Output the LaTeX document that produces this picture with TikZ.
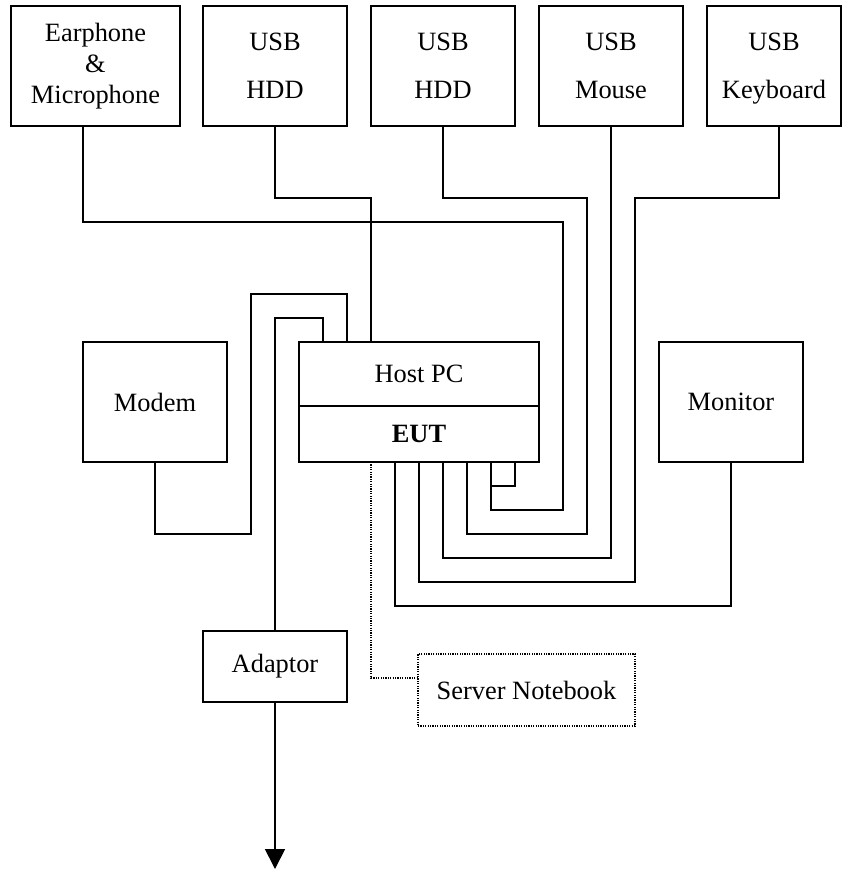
\documentclass[tikz,border=0pt]{standalone}
\usepackage{fontspec}
\setmainfont{Liberation Serif}
\usetikzlibrary{positioning,calc,arrows.meta}

\tikzset{
  dev/.style={draw, line width=1pt, inner sep=0pt, outer sep=0pt, align=center,
    minimum width=72pt, minimum height=60pt, font=\fontsize{13.2}{24}\selectfont},
  wire/.style={line width=0.9pt},
  dotline/.style={line width=0.7pt, dash pattern=on 0.6pt off 0.6pt}
}

\begin{document}
\begin{tikzpicture}[x=0.5pt, y=-0.5pt]
  \useasboundingbox (0,0) rectangle (842,872);
  %上方的外设
  \node[dev, minimum width=84.5pt, font=\fontsize{13.2}{15.5}\selectfont] (earphone) at (95.5,66) {Earphone\\\&\\Microphone};
  \node[dev] (hddA) at (275,66) {USB\\HDD};
  \node[dev] (hddB) at (443,66) {USB\\HDD};
  \node[dev] (mouse) at (611,66) {USB\\Mouse};
  \node[dev, minimum width=67pt] (keyboard) at (774,66) {USB\\\smash{Keyboard}};
  %中间一排
  \node[dev] (modem) at (155,402) {Modem};
  \node[dev, minimum width=120pt, minimum height=32pt] (host) at (419,374) {Host PC};
  \node[dev, minimum width=120pt, minimum height=28pt, below=0pt of host] (eut) {\bfseries EUT};
  \node[dev] (monitor) at (731,402) {Monitor};
  %下方
  \node[dev, minimum height=35.5pt] (adaptor) at (275,666.5) {Adaptor};
  \node[dev, dotline, minimum width=108.5pt, minimum height=36pt] (server) at (526.5,690) {Server Notebook};
  \coordinate (mains) at (275,869);
  %主机上的接口
  \foreach \n/\d in {ad/24,md/48,hd/72}{\coordinate (t-\n) at ($(host.north west)+(\d,0)$);}
  \foreach \n/\d in {sv/72,mo/96,kb/120,ms/144,hd/168,ea/192,lp/216}{\coordinate (b-\n) at ($(eut.south west)+(\d,0)$);}
  %连线
  \draw[wire] (earphone.south west) ++(72,0) |- (563,222) |- (491,510) -- (b-ea);
  \draw[wire] (b-ea) ++(0,24) -| (b-lp);
  \draw[wire] (hddA.south west) ++(72,0) |- (371,198) -- (t-hd);
  \draw[wire] (hddB.south west) ++(72,0) |- (587,198) |- (467,534) -- (b-hd);
  \draw[wire] (mouse.south west) ++(72,0) -- (611,558) -| (b-ms);
  \draw[wire] (keyboard.south west) ++(72,0) |- (635,198) |- (419,582) -- (b-kb);
  \draw[wire] (monitor.south west) ++(72,0) -- (731,606) -| (b-mo);
  \draw[wire] (modem.south west) ++(72,0) |- (251,534) |- (347,294) -- (t-md);
  \draw[wire] (t-ad) |- (275,318) -- (adaptor.north);
  \draw[wire, -{Triangle[width=10pt,length=10pt]}] (adaptor.south) -- (mains);
  \draw[dotline] (b-sv) |- ([yshift=6pt]server.west);
\end{tikzpicture}
\end{document}
